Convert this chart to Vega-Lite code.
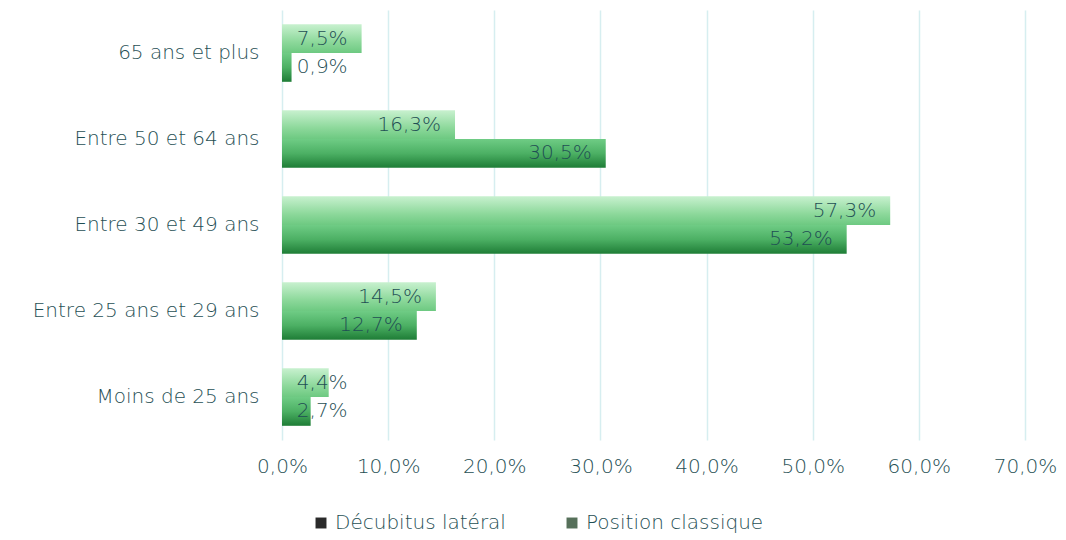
{
  "$schema": "https://vega.github.io/schema/vega-lite/v6.json",
  "width": 743,
  "height": 430,
  "autosize": {"type": "none"},
  "padding": {"left": 282, "top": 10, "right": 41, "bottom": 100},
  "background": "white",
  "config": {
    "font": "DejaVu Sans",
    "locale": {"number": {"decimal": ",", "thousands": " ", "grouping": [3], "currency": ["", " €"]}},
    "view": {"stroke": null},
    "axis": {"labelFont": "DejaVu Sans", "labelColor": "#1f4f54", "labelFontSize": 20, "labelFontWeight": 300}
  },
  "data": {
    "values": [
      {"age": "65 ans et plus", "serie": "Position classique", "v": 0.075},
      {"age": "65 ans et plus", "serie": "Décubitus latéral", "v": 0.009},
      {"age": "Entre 50 et 64 ans", "serie": "Position classique", "v": 0.163},
      {"age": "Entre 50 et 64 ans", "serie": "Décubitus latéral", "v": 0.305},
      {"age": "Entre 30 et 49 ans", "serie": "Position classique", "v": 0.573},
      {"age": "Entre 30 et 49 ans", "serie": "Décubitus latéral", "v": 0.532},
      {"age": "Entre 25 ans et 29 ans", "serie": "Position classique", "v": 0.145},
      {"age": "Entre 25 ans et 29 ans", "serie": "Décubitus latéral", "v": 0.127},
      {"age": "Moins de 25 ans", "serie": "Position classique", "v": 0.044},
      {"age": "Moins de 25 ans", "serie": "Décubitus latéral", "v": 0.027}
    ]
  },
  "encoding": {
    "y": {
      "field": "age", "type": "nominal",
      "sort": ["65 ans et plus", "Entre 50 et 64 ans", "Entre 30 et 49 ans", "Entre 25 ans et 29 ans", "Moins de 25 ans"],
      "scale": {"paddingInner": 0.33, "paddingOuter": 0.165},
      "axis": {"title": null, "ticks": false, "domain": false, "labelPadding": 23, "labelLimit": 300}
    },
    "yOffset": {
      "field": "serie", "type": "nominal",
      "sort": ["Position classique", "Décubitus latéral"]
    },
    "x": {
      "field": "v", "type": "quantitative",
      "scale": {"domain": [0, 0.7], "nice": false},
      "axis": {
        "title": null, "format": ".1%",
        "values": [0, 0.1, 0.2, 0.3, 0.4, 0.5, 0.6, 0.7],
        "ticks": false, "domain": false, "grid": true, "gridColor": "#d6eef0", "gridWidth": 1.5,
        "labelPadding": 16, "labelFlush": false, "labelOverlap": false, "labelBound": false
      }
    }
  },
  "layer": [
    {
      "mark": {"type": "bar", "opacity": 0},
      "encoding": {
        "color": {
          "field": "serie", "type": "nominal",
          "scale": {"domain": ["Décubitus latéral", "Position classique"], "range": ["#2a2a2a", "#56705a"]},
          "legend": {
            "orient": "none", "legendX": 29, "legendY": 503, "direction": "horizontal",
            "title": null, "symbolType": "square", "symbolSize": 120,
            "labelFontSize": 20, "labelFontWeight": 300, "labelColor": "#1f4f54", "labelFont": "DejaVu Sans",
            "columnPadding": 56, "symbolOpacity": 1, "labelLimit": 300,
            "encode": {"symbols": {"update": {"opacity": {"value": 1}, "fillOpacity": {"value": 1}, "strokeOpacity": {"value": 0}}}}
          }
        }
      }
    },
    {
      "transform": [{"filter": "datum.serie === 'Position classique'"}],
      "mark": {"type": "bar", "color": {"gradient": "linear", "x1": 0, "y1": 0, "x2": 0, "y2": 1, "stops": [{"offset": 0, "color": "#c8f1cf"}, {"offset": 0.6, "color": "#8ed99c"}, {"offset": 1, "color": "#6dc981"}]}}
    },
    {
      "transform": [{"filter": "datum.serie === 'Décubitus latéral'"}],
      "mark": {"type": "bar", "color": {"gradient": "linear", "x1": 0, "y1": 0, "x2": 0, "y2": 1, "stops": [{"offset": 0, "color": "#6fcc85"}, {"offset": 0.5, "color": "#4cb064"}, {"offset": 1, "color": "#1e7d36"}]}}
    },
    {
      "transform": [{"calculate": "max(datum.v, 0.075)", "as": "lx"}],
      "mark": {"type": "text", "align": "right", "baseline": "middle", "dx": -14, "fontSize": 20, "fontWeight": 300, "color": "#1f4f54", "font": "DejaVu Sans"},
      "encoding": {
        "x": {"field": "lx", "type": "quantitative"},
        "text": {"field": "v", "type": "quantitative", "format": ".1%"}
      }
    }
  ]
}
